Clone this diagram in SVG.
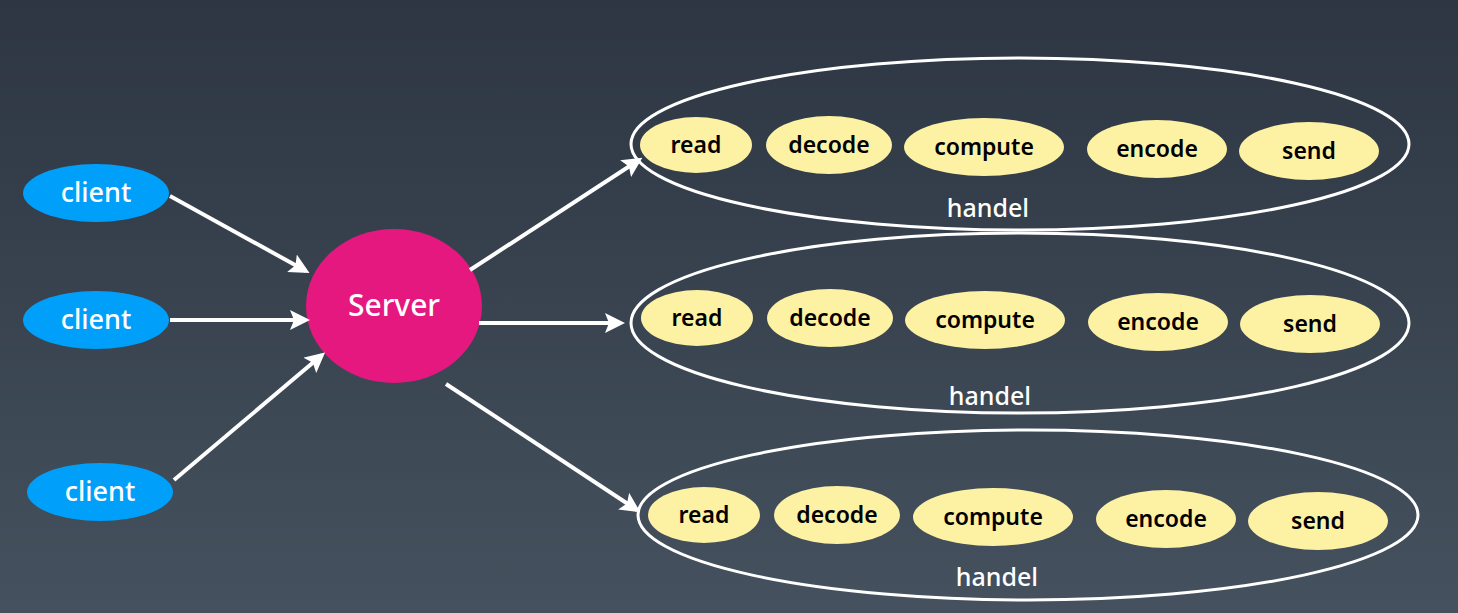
<svg xmlns="http://www.w3.org/2000/svg" width="1458" height="613" viewBox="0 0 1458 613">
<defs>
<linearGradient id="bg" x1="0" y1="0" x2="0" y2="1">
<stop offset="0" stop-color="#2d3642"/>
<stop offset="1" stop-color="#45515e"/>
</linearGradient>
<marker id="ah" markerWidth="5" markerHeight="5" refX="4" refY="2.5" orient="auto" markerUnits="strokeWidth">
<path d="M0,0 L5,2.5 L0,5 L1,2.5 Z" fill="#ffffff"/>
</marker>
<style>
.client{fill:#00a0fa}
.server{fill:#e4187e}
.group{fill:none;stroke:#ffffff;stroke-width:3}
.step{fill:#fdf1a4}
.wt{fill:#ffffff;font-family:"Noto Sans","Open Sans",sans-serif;font-weight:500;text-anchor:middle}
.bt{fill:#000000;font-family:"Noto Sans","Open Sans",sans-serif;font-size:23px;font-weight:600;text-anchor:middle}
.conn{stroke:#ffffff;stroke-width:4;fill:none;marker-end:url(#ah)}
</style>
</defs>
<rect width="1458" height="613" fill="url(#bg)"/>

<g id="client1"><ellipse class="client" cx="96" cy="193" rx="73" ry="29"/><text class="wt" x="96" y="202" font-size="27">client</text></g>
<g id="client2"><ellipse class="client" cx="96" cy="320" rx="73" ry="29"/><text class="wt" x="96" y="329" font-size="27">client</text></g>
<g id="client3"><ellipse class="client" cx="100" cy="492" rx="73" ry="29"/><text class="wt" x="100" y="501" font-size="27">client</text></g>
<g id="server"><ellipse class="server" cx="394" cy="306" rx="88" ry="77"/><text class="wt" x="394" y="316" font-size="30" font-weight="600">Server</text></g>

<g id="handel1">
<ellipse class="group" cx="1020" cy="144" rx="389" ry="86"/>
<ellipse class="step" cx="696" cy="145" rx="56" ry="28"/><text class="bt" x="696" y="153">read</text>
<ellipse class="step" cx="829" cy="145" rx="63" ry="29"/><text class="bt" x="829" y="153">decode</text>
<ellipse class="step" cx="984" cy="147" rx="80" ry="29"/><text class="bt" x="984" y="155">compute</text>
<ellipse class="step" cx="1157" cy="149" rx="70" ry="29"/><text class="bt" x="1157" y="157">encode</text>
<ellipse class="step" cx="1309" cy="151" rx="70" ry="29"/><text class="bt" x="1309" y="159">send</text>
<text class="wt" x="988" y="217" font-size="25">handel</text>
</g>
<g id="handel2">
<ellipse class="group" cx="1020" cy="323" rx="389" ry="90"/>
<ellipse class="step" cx="697" cy="318" rx="56" ry="28"/><text class="bt" x="697" y="326">read</text>
<ellipse class="step" cx="830" cy="318" rx="63" ry="29"/><text class="bt" x="830" y="326">decode</text>
<ellipse class="step" cx="985" cy="320" rx="80" ry="29"/><text class="bt" x="985" y="328">compute</text>
<ellipse class="step" cx="1158" cy="322" rx="70" ry="29"/><text class="bt" x="1158" y="330">encode</text>
<ellipse class="step" cx="1310" cy="324" rx="70" ry="29"/><text class="bt" x="1310" y="332">send</text>
<text class="wt" x="990" y="405" font-size="25">handel</text>
</g>
<g id="handel3">
<ellipse class="group" cx="1028" cy="515" rx="390" ry="85"/>
<ellipse class="step" cx="704" cy="515" rx="56" ry="28"/><text class="bt" x="704" y="523">read</text>
<ellipse class="step" cx="837" cy="515" rx="63" ry="29"/><text class="bt" x="837" y="523">decode</text>
<ellipse class="step" cx="993" cy="517" rx="80" ry="29"/><text class="bt" x="993" y="525">compute</text>
<ellipse class="step" cx="1166" cy="519" rx="70" ry="29"/><text class="bt" x="1166" y="527">encode</text>
<ellipse class="step" cx="1318" cy="521" rx="70" ry="29"/><text class="bt" x="1318" y="529">send</text>
<text class="wt" x="997" y="586" font-size="25">handel</text>
</g>

<g id="connectors">
<line class="conn" x1="170" y1="196" x2="306" y2="271"/>
<line class="conn" x1="170" y1="320" x2="306" y2="320"/>
<line class="conn" x1="174" y1="480" x2="322" y2="355"/>
<line class="conn" x1="470" y1="270" x2="639" y2="160"/>
<line class="conn" x1="479" y1="323" x2="621" y2="323"/>
<line class="conn" x1="446" y1="384" x2="637" y2="510"/>
</g>
</svg>
